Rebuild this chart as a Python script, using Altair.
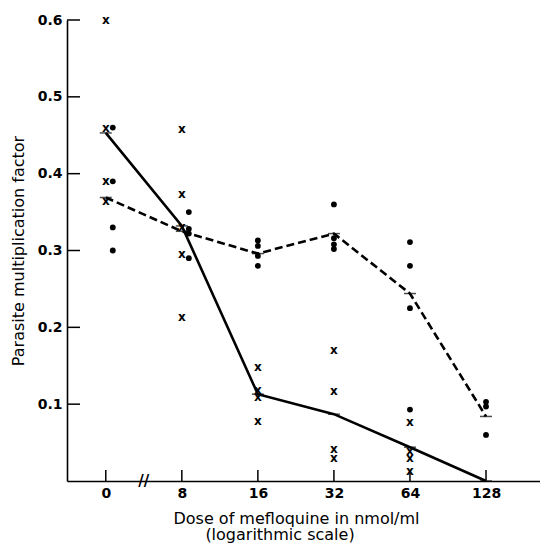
import altair as alt
import pandas as pd

# ---------------- data ----------------
dose_labels = ["0", "8", "16", "32", "64", "128"]

# crosses ("x") per dose
crosses_0 = [0.600, 0.460, 0.391, 0.364]
crosses_8 = [0.458, 0.373, 0.330, 0.295, 0.214]
crosses_16 = [0.149, 0.118, 0.109, 0.078]
crosses_32 = [0.171, 0.117, 0.042, 0.030]
crosses_64 = [0.077, 0.039, 0.030, 0.013]
crosses_128 = []

# dots per dose
dots_0 = [0.460, 0.390, 0.330, 0.300]
dots_8 = [0.350, 0.328, 0.322, 0.290]
dots_16 = [0.313, 0.306, 0.293, 0.280]
dots_32 = [0.360, 0.316, 0.308, 0.302]
dots_64 = [0.311, 0.280, 0.225, 0.093]
dots_128 = [0.103, 0.097, 0.060]

# mean lines
solid_means = [0.453, 0.332, 0.113, 0.087, 0.044, 0.000]
dashed_means = [0.369, 0.325, 0.296, 0.322, 0.244, 0.084]

y_tick_values = [0.1, 0.2, 0.3, 0.4, 0.5, 0.6]

# ---------------- layout / style ----------------
W, H = 473, 461
dot_shifted = [True, True, False, False, False, False]   # dots drawn slightly right of the crosses
DOT_SHIFT_PX = 7
FONT = "DejaVu Sans"

cross_lists = [crosses_0, crosses_8, crosses_16, crosses_32, crosses_64, crosses_128]
dot_lists = [dots_0, dots_8, dots_16, dots_32, dots_64, dots_128]

cross_df = pd.DataFrame(
    [{"idx": i, "value": v} for i, lst in enumerate(cross_lists) for v in lst]
)
dot_df_shift = pd.DataFrame(
    [{"idx": i, "value": v} for i, lst in enumerate(dot_lists) if dot_shifted[i] for v in lst]
)
dot_df_plain = pd.DataFrame(
    [{"idx": i, "value": v} for i, lst in enumerate(dot_lists) if not dot_shifted[i] for v in lst]
)
solid_df = pd.DataFrame({"idx": list(range(6)), "value": solid_means})
dashed_df = pd.DataFrame({"idx": list(range(6)), "value": dashed_means})
ytick_df = pd.DataFrame({"value": y_tick_values})
xtick_df = pd.DataFrame({"idx": list(range(6))})
break_df = pd.DataFrame({"idx": [0.5], "value": [0.0], "t": ["//"]})

label_expr = "[" + ",".join(f"'{d}'" for d in dose_labels) + "][datum.value]"

xscale = alt.Scale(domain=[-0.51, 5.71], nice=False, zero=False)
yscale = alt.Scale(domain=[0, 0.6], nice=False)

X = alt.X(
    "idx:Q",
    scale=xscale,
    axis=alt.Axis(
        values=list(range(6)),
        labelExpr=label_expr,
        ticks=False,
        tickSize=0,
        grid=False,
        labelPadding=5,
        labelFontSize=14,
        labelFontWeight="bold",
        title="Dose of mefloquine in nmol/ml",
        titleFontSize=16,
        titleFontWeight="normal",
        titleX=229,
        titleY=29,
        titleBaseline="top",
    ),
)
Y = alt.Y(
    "value:Q",
    scale=yscale,
    axis=alt.Axis(
        values=y_tick_values,
        format=".1f",
        ticks=False,
        tickSize=0,
        grid=False,
        labelPadding=5,
        labelFontSize=14,
        labelFontWeight="bold",
        title="Parasite multiplication factor",
        titleFontSize=16,
        titleFontWeight="normal",
        titleX=-49,
        titleY=H / 2,
        titleAngle=270,
        titleAlign="center",
        titleBaseline="middle",
    ),
)

solid = alt.Chart(solid_df).mark_line(color="black", strokeWidth=2.6).encode(x=X, y=Y)
dashed = alt.Chart(dashed_df).mark_line(
    color="black", strokeWidth=2.6, strokeDash=[8, 4]
).encode(x=X, y=Y)

solid_nodes = alt.Chart(solid_df).mark_tick(
    orient="horizontal", size=12, thickness=1.5, color="black"
).encode(x=X, y=Y)
dashed_nodes = alt.Chart(dashed_df).mark_tick(
    orient="horizontal", size=12, thickness=1.5, color="black"
).encode(x=X, y=Y)

crosses = alt.Chart(cross_df).mark_text(
    text="x", font=FONT, fontSize=12, fontWeight="bold", color="black", baseline="middle"
).encode(x=X, y=Y)

dots_a = alt.Chart(dot_df_shift).mark_circle(
    size=34, opacity=1, color="black", xOffset=DOT_SHIFT_PX
).encode(x=X, y=Y)
dots_b = alt.Chart(dot_df_plain).mark_circle(size=34, opacity=1, color="black").encode(x=X, y=Y)

yticks = alt.Chart(ytick_df).mark_rule(color="black", strokeWidth=1.5).encode(
    y=Y, x=alt.value(0), x2=alt.value(13)
)
xticks = alt.Chart(xtick_df).mark_rule(color="black", strokeWidth=1.5).encode(
    x=X, y=alt.value(H - 11), y2=alt.value(H)
)

brk = alt.Chart(break_df).mark_text(
    font=FONT, fontSize=15, fontWeight="bold", color="black", baseline="middle", align="center"
).encode(x=X, y=Y, text="t:N")

subtitle = alt.Chart(break_df).mark_text(
    font=FONT, fontSize=16, color="black", baseline="top", align="center"
).encode(x=alt.value(213), y=alt.value(H + 46), text=alt.value("(logarithmic scale)"))

chart = (
    alt.layer(solid, dashed, solid_nodes, dashed_nodes, crosses, dots_a, dots_b,
              yticks, xticks, brk, subtitle)
    .properties(
        width=W,
        height=H,
        autosize=alt.AutoSizeParams(type="none"),
        padding={"left": 59, "top": 12, "right": 0, "bottom": 65},
    )
    .configure_view(stroke=None)
    .configure_axis(
        domainColor="black",
        domainWidth=1.6,
        labelColor="black",
        titleColor="black",
        labelFont=FONT,
        titleFont=FONT,
    )
)

chart.save("out.html", embed_options={"renderer": "svg", "actions": False})
